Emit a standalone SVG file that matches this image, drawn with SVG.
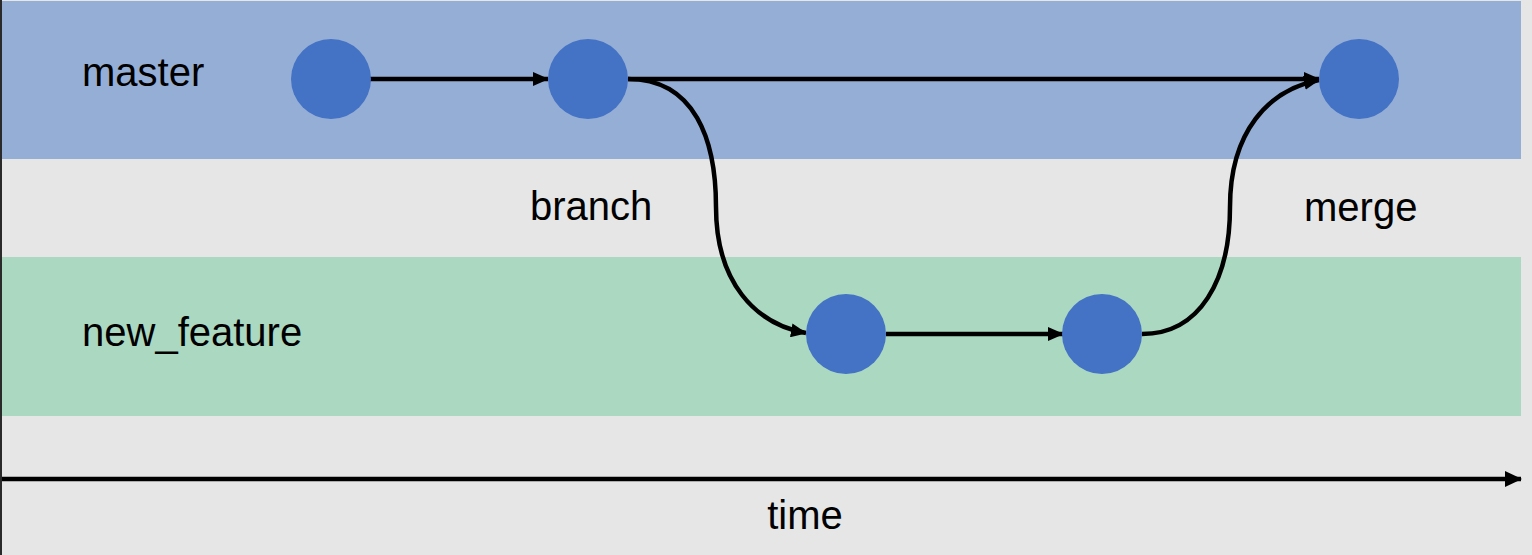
<svg xmlns="http://www.w3.org/2000/svg" width="1532" height="555" viewBox="0 0 1532 555">
<style>
.lbl{font-family:"Liberation Sans",Arial,sans-serif;font-size:40px;fill:#000}
.commit{fill:#4472c4}
.conn{fill:none;stroke:#000;stroke-width:4.5}
</style>
<defs>
<marker id="ah" viewBox="0 0 16 14" refX="15" refY="7" markerWidth="16" markerHeight="14" markerUnits="userSpaceOnUse" orient="auto">
<path d="M0,0 L16,7 L0,14 Z" fill="#000"/>
</marker>
<marker id="ahT" viewBox="0 0 17 16" refX="16" refY="8" markerWidth="17" markerHeight="16" markerUnits="userSpaceOnUse" orient="auto">
<path d="M0,0 L17,8 L0,16 Z" fill="#000"/>
</marker>
</defs>
<rect x="0" y="0" width="1532" height="555" fill="#e6e6e6"/>
<rect x="0" y="0" width="2" height="555" fill="#2a2a2a"/>
<g id="lanes">
<rect x="2" y="1" width="1519" height="158" fill="#95aed6"/>
<rect x="2" y="257" width="1519" height="159" fill="#abd8c1"/>
</g>
<g id="labels">
<text class="lbl" x="82" y="86">master</text>
<text class="lbl" x="82" y="346">new_feature</text>
<text class="lbl" x="530" y="220">branch</text>
<text class="lbl" x="1304" y="221">merge</text>
<text class="lbl" x="805" y="529" text-anchor="middle">time</text>
</g>
<g id="connectors">
<path class="conn" d="M370,79 L548,79" marker-end="url(#ah)"/>
<path class="conn" d="M628,79 L1319,79" marker-end="url(#ah)"/>
<path class="conn" d="M628,79 C695,79 716,140 716,207 C716,282 755,324 806,333" marker-end="url(#ah)"/>
<path class="conn" d="M886,334 L1063,334" marker-end="url(#ah)"/>
<path class="conn" d="M1142,334 C1200,334 1230,280 1230,207 C1230,132 1268,90 1319,80" marker-end="url(#ah)"/>
<path class="conn" d="M2,479 L1521,479" marker-end="url(#ahT)"/>
</g>
<g id="c1"><circle class="commit" cx="331" cy="79" r="40"/></g>
<g id="c2"><circle class="commit" cx="588" cy="79" r="40"/></g>
<g id="c3"><circle class="commit" cx="1359" cy="79" r="40"/></g>
<g id="f1"><circle class="commit" cx="846" cy="334" r="40"/></g>
<g id="f2"><circle class="commit" cx="1102" cy="334" r="40"/></g>
</svg>
